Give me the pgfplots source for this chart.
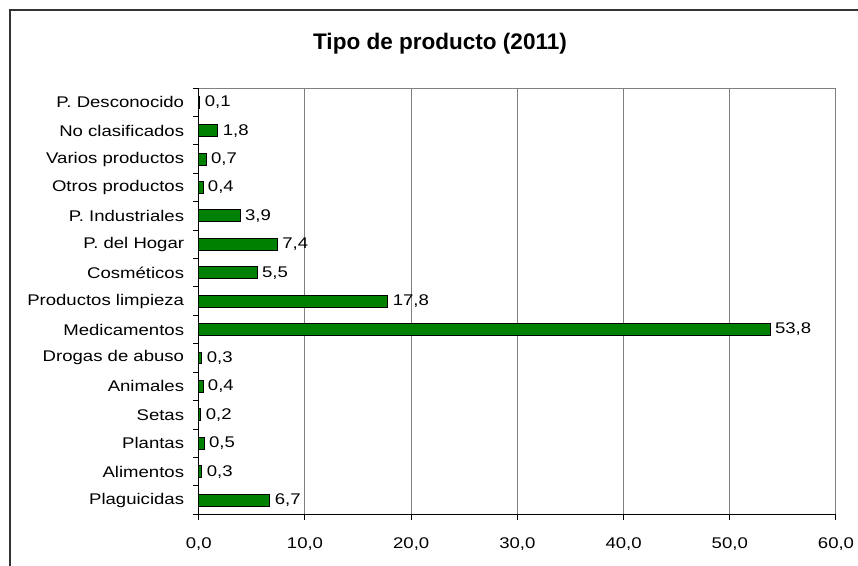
\documentclass[border=0pt]{standalone}
\usepackage{fontspec}
\setmainfont{Liberation Sans}
\newfontfamily\lab[FakeStretch=1.2]{Liberation Sans}
\usepackage{pgfplots}
\pgfplotsset{compat=1.18}
\definecolor{barra}{RGB}{0,128,0}
\definecolor{rejilla}{RGB}{128,128,128}
\definecolor{marco}{RGB}{51,51,51}
\begin{document}
\begin{tikzpicture}
\useasboundingbox (0,0) rectangle (643.5pt,-423.75pt);
% marco exterior (sigue fuera de la imagen por la derecha y por abajo)
\draw[marco, line width=1.5pt] (7.2pt,-7.5pt) rectangle (700pt,-480pt);
\node[font=\fontsize{16.9}{20}\selectfont\bfseries] at (330pt,-32.5pt) {Tipo de producto (2011)};
\begin{axis}[
    at={(149.1pt,-385.7pt)}, anchor=south west,
    scale only axis, width=477.9pt, height=319.7pt,
    xbar, bar width=0.42,
    xmin=0, xmax=60, ymin=-0.5, ymax=14.5,
    axis x line*=bottom, axis y line*=left,
    axis line style={black, line width=0.8pt},
    % x-Ticks
    xtick={0,10,...,60},
    xmajorgrids,
    grid style={rejilla, line width=0.75pt},
    tick align=outside, major tick length=4.5pt,
    tick style={black, line width=0.75pt},
    xticklabel style={font=\lab\fontsize{11.6}{14}\selectfont, yshift=-9.5pt},
    /pgf/number format/.cd, fixed, fixed zerofill, precision=1, use comma, assume math mode=true,
    /pgfplots/.cd,
    % y-Ticks
    ytick={-0.5,0.5,...,14.5},
    y tick label as interval,
    yticklabels={Plaguicidas, Alimentos, Plantas, Setas, Animales, Drogas de abuso,
        Medicamentos, Productos limpieza, Cosméticos, P. del Hogar, P. Industriales,
        Otros productos, Varios productos, No clasificados, P. Desconocido},
    yticklabel style={font=\lab\fontsize{11.6}{14}\selectfont, xshift=-3pt},
    point meta=x,
    nodes near coords={\pgfmathprintnumber[fixed, fixed zerofill, precision=1, use comma, assume math mode=true]{\pgfplotspointmeta}},
    nodes near coords style={font=\lab\fontsize{11.6}{14}\selectfont, anchor=west},
]
\addplot[fill=barra, draw=black, line width=0.75pt] coordinates {
    (6.7,0) (0.3,1) (0.5,2) (0.2,3) (0.4,4) (0.3,5) (53.8,6) (17.8,7)
    (5.5,8) (7.4,9) (3.9,10) (0.4,11) (0.7,12) (1.8,13) (0.1,14)
};
\draw[rejilla, line width=0.75pt] (rel axis cs:0,1) -- (rel axis cs:1,1);
\end{axis}
\end{tikzpicture}
\end{document}
